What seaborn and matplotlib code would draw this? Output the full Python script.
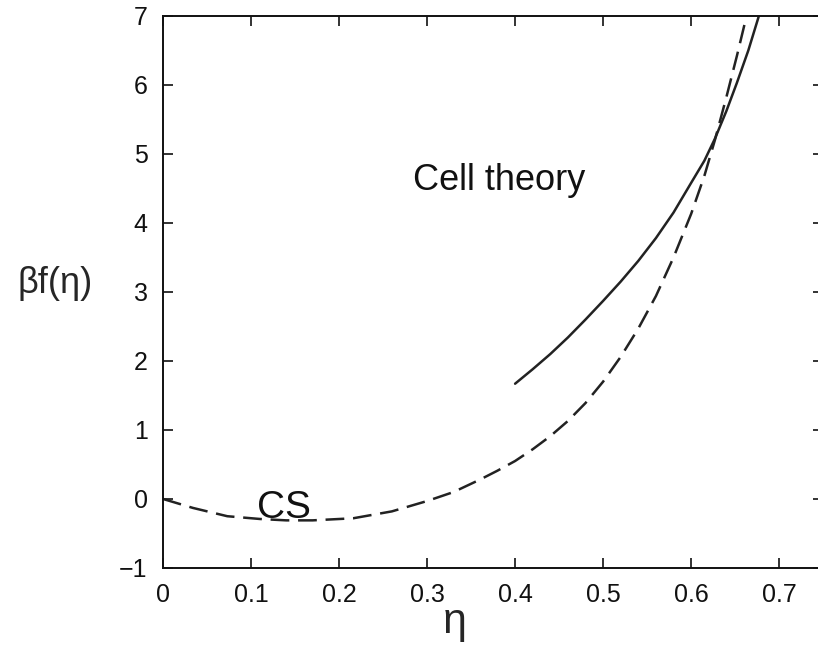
import matplotlib
matplotlib.use("Agg")
import matplotlib.pyplot as plt
import seaborn as sns
import pandas as pd

# Carnahan-Starling (dashed) curve
eta_cs = [0.0, 0.034, 0.073, 0.11, 0.14, 0.17, 0.216, 0.26, 0.30, 0.33, 0.36,
          0.38, 0.40, 0.42, 0.44, 0.46, 0.48, 0.50, 0.52, 0.54, 0.56, 0.58,
          0.60, 0.615, 0.627, 0.64, 0.652, 0.663]
f_cs = [0.0, -0.13, -0.25, -0.29, -0.31, -0.31, -0.28, -0.18, -0.03, 0.10, 0.28,
        0.41, 0.55, 0.72, 0.91, 1.13, 1.39, 1.70, 2.06, 2.47, 2.94, 3.50,
        4.13, 4.68, 5.20, 5.82, 6.42, 7.0]

# Cell theory (solid) curve
eta_cell = [0.40, 0.42, 0.44, 0.46, 0.48, 0.50, 0.52, 0.54, 0.56, 0.58, 0.60,
            0.615, 0.627, 0.64, 0.652, 0.665, 0.677]
f_cell = [1.67, 1.88, 2.10, 2.34, 2.60, 2.87, 3.15, 3.45, 3.78, 4.15, 4.58,
          4.90, 5.22, 5.62, 6.03, 6.50, 7.0]

x_ticks = [0, 0.1, 0.2, 0.3, 0.4, 0.5, 0.6, 0.7]
x_ticklabels = ["0", "0.1", "0.2", "0.3", "0.4", "0.5", "0.6", "0.7"]
y_ticks = [-1, 0, 1, 2, 3, 4, 5, 6, 7]
y_ticklabels = ["\u22121", "0", "1", "2", "3", "4", "5", "6", "7"]

sns.set_style("ticks")
plt.rcParams["font.family"] = ["Liberation Sans", "DejaVu Sans"]

df_cs = pd.DataFrame({"eta": eta_cs, "f": f_cs})
df_cell = pd.DataFrame({"eta": eta_cell, "f": f_cell})

fig = plt.figure(figsize=(8.18, 6.48), dpi=100)
ax = fig.add_axes([0.1993, 0.1235, 0.807, 0.852])

sns.lineplot(data=df_cs, x="eta", y="f", ax=ax, color="#222222", lw=1.8,
             sort=False, estimator=None)
ax.lines[-1].set_dashes([7.5, 3.5])
sns.lineplot(data=df_cell, x="eta", y="f", ax=ax, color="#222222", lw=1.8,
             sort=False, estimator=None)

ax.set_xlim(0, 0.75)
ax.set_ylim(-1, 7)
ax.set_xticks(x_ticks)
ax.set_xticklabels(x_ticklabels)
ax.set_yticks(y_ticks)
ax.set_yticklabels(y_ticklabels)
ax.tick_params(direction="in", length=7, width=1.2, top=True, right=True,
               labelsize=18, pad=11, colors="#111111")
for s in ax.spines.values():
    s.set_linewidth(1.4)
    s.set_color("#111111")

# eta label sits low, near the bottom edge as in the original
ax.set_xlabel("\u03b7", fontsize=31)
ax.xaxis.set_label_coords(0.442, -0.062)
ax.xaxis.label.set_va("top")
ax.set_ylabel("\u03b2f(\u03b7)", fontsize=26, rotation=0)
ax.yaxis.set_label_coords(-0.164, 0.516)
ax.yaxis.label.set_va("center")

ax.text(0.284, 4.48, "Cell theory", fontsize=26, color="#111111")
ax.text(0.107, -0.28, "CS", fontsize=28, color="#111111")

fig.savefig("out.png", dpi=100)
